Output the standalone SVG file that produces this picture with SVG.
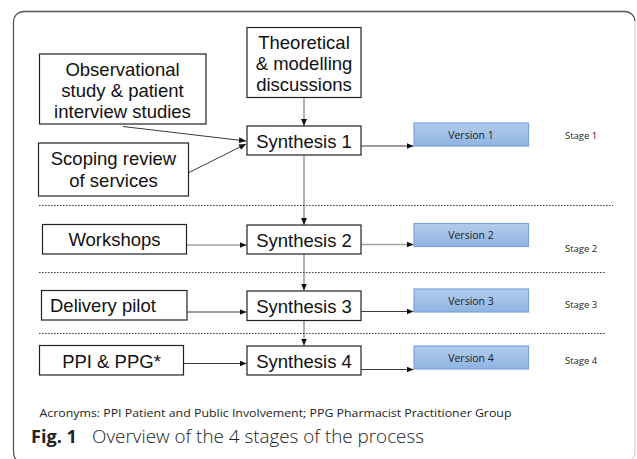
<svg xmlns="http://www.w3.org/2000/svg" width="637" height="459" viewBox="0 0 637 459">
<style>
.box{fill:#fff;stroke:#222;stroke-width:1.2}
.t{font-family:"Liberation Sans",Arial,sans-serif;font-size:18.5px;fill:#111;text-anchor:middle}
.ver{fill:url(#vg);stroke:#78a5dd;stroke-width:1.2}
.vt{font-family:"Open Sans","Noto Sans",sans-serif;font-size:10.5px;fill:#222;text-anchor:middle}
.st{font-family:"Open Sans","Noto Sans",sans-serif;font-size:9.5px;fill:#222}
.dk{stroke:#3a3a3a;stroke-width:1;fill:none;marker-end:url(#ah)}
.gr{stroke:#a0a0a0;stroke-width:1.6;fill:none;marker-end:url(#ah)}
.dot{stroke:#444;stroke-width:1;stroke-dasharray:1.6 1.4;fill:none}
</style>
<defs>
<linearGradient id="vg" x1="0" y1="0" x2="0" y2="1">
<stop offset="0" stop-color="#b3ccec"/>
<stop offset="1" stop-color="#8fb4e2"/>
</linearGradient>
<marker id="ah" markerUnits="userSpaceOnUse" markerWidth="8" markerHeight="8" viewBox="0 0 8 8" refX="7" refY="4" orient="auto">
<path d="M0,1 L7,4 L0,7 Z" fill="#111"/>
</marker>
</defs>
<rect width="637" height="459" fill="#fff"/>
<path d="M16,459 Q13.5,458 13.5,449 V21 A10,10 0 0 1 23.5,11.5 H625 A10,10 0 0 1 635,21" fill="none" stroke="#555" stroke-width="1.3"/>
<path d="M635,21 V452 Q635,457 632,459" fill="none" stroke="#ccc" stroke-width="1"/>

<g id="connectors">
<line class="dk" x1="123" y1="126.5" x2="246" y2="141"/>
<line class="dk" x1="188" y1="173" x2="246" y2="144"/>
<line class="gr" x1="304" y1="97" x2="304" y2="126"/>
<line class="gr" x1="304" y1="155" x2="304" y2="225"/>
<line class="gr" x1="304" y1="254" x2="304" y2="290.5"/>
<line class="gr" x1="304" y1="321" x2="304" y2="345.5"/>
<line class="gr" x1="187" y1="245" x2="246.5" y2="245"/>
<line class="dk" x1="187" y1="312" x2="246.5" y2="312"/>
<line class="dk" x1="183" y1="363.5" x2="246.5" y2="363.5"/>
<line class="dk" x1="361" y1="146" x2="413.5" y2="146"/>
<line class="gr" x1="361" y1="244.5" x2="413.5" y2="244.5"/>
<line class="dk" x1="361" y1="311.5" x2="413.5" y2="311.5"/>
<line class="dk" x1="361" y1="369.5" x2="413.5" y2="369.5"/>
</g>

<g id="dividers">
<line class="dot" x1="39" y1="205.5" x2="613" y2="205.5"/>
<line class="dot" x1="39" y1="272.5" x2="606" y2="272.5"/>
<line class="dot" x1="39" y1="333.5" x2="606" y2="333.5"/>
</g>

<g id="theoretical">
<rect class="box" x="247" y="27.5" width="114" height="70"/>
<text class="t" x="304" y="49">Theoretical</text>
<text class="t" x="304" y="70">&amp; modelling</text>
<text class="t" x="304" y="91">discussions</text>
</g>
<g id="observational">
<rect class="box" x="39.5" y="54" width="166.5" height="70"/>
<text class="t" x="122.5" y="76">Observational</text>
<text class="t" x="122.5" y="97">study &amp; patient</text>
<text class="t" x="122.5" y="118">interview studies</text>
</g>
<g id="scoping">
<rect class="box" x="38.5" y="143" width="150" height="53"/>
<text class="t" x="113.5" y="164.5">Scoping review</text>
<text class="t" x="113.5" y="186.5">of services</text>
</g>
<g id="synthesis1">
<rect class="box" x="247" y="126" width="114" height="29"/>
<text class="t" x="304" y="147.5">Synthesis 1</text>
</g>
<g id="version1">
<rect class="ver" x="414" y="123" width="114.5" height="23"/>
<text class="vt" x="471" y="138.5">Version 1</text>
</g>
<text class="st" x="565" y="138.5">Stage 1</text>

<g id="workshops">
<rect class="box" x="42.5" y="224.5" width="144" height="29.5"/>
<text class="t" x="114.5" y="246">Workshops</text>
</g>
<g id="synthesis2">
<rect class="box" x="247" y="225" width="114" height="29"/>
<text class="t" x="304" y="246.5">Synthesis 2</text>
</g>
<g id="version2">
<rect class="ver" x="414" y="223.5" width="114.5" height="23"/>
<text class="vt" x="471" y="239">Version 2</text>
</g>
<text class="st" x="565" y="252">Stage 2</text>

<g id="delivery">
<rect class="box" x="41.5" y="290.5" width="145.5" height="29.5"/>
<text class="t" x="50" y="312" style="text-anchor:start">Delivery pilot</text>
</g>
<g id="synthesis3">
<rect class="box" x="247" y="291" width="114" height="29.5"/>
<text class="t" x="304" y="312.5">Synthesis 3</text>
</g>
<g id="version3">
<rect class="ver" x="414" y="289" width="114.5" height="23"/>
<text class="vt" x="471" y="304.5">Version 3</text>
</g>
<text class="st" x="565" y="308">Stage 3</text>

<g id="ppi">
<rect class="box" x="39.5" y="345.5" width="144" height="29.5"/>
<text class="t" x="111.5" y="367.5">PPI &amp; PPG*</text>
</g>
<g id="synthesis4">
<rect class="box" x="247" y="346" width="114" height="29"/>
<text class="t" x="304" y="367.5">Synthesis 4</text>
</g>
<g id="version4">
<rect class="ver" x="414" y="346" width="114.5" height="23"/>
<text class="vt" x="471" y="361.5">Version 4</text>
</g>
<text class="st" x="565" y="364">Stage 4</text>

<text x="39.5" y="417" font-family="'Open Sans','Noto Sans',sans-serif" font-size="11" fill="#222" textLength="472" lengthAdjust="spacingAndGlyphs">Acronyms: PPI Patient and Public Involvement; PPG Pharmacist Practitioner Group</text>
<text x="31" y="443" font-family="'Open Sans','Noto Sans',sans-serif" font-size="18.5" fill="#222"><tspan font-weight="bold" textLength="46" lengthAdjust="spacingAndGlyphs">Fig. 1</tspan><tspan x="92" font-weight="300" textLength="332" lengthAdjust="spacingAndGlyphs">Overview of the 4 stages of the process</tspan></text>
</svg>
